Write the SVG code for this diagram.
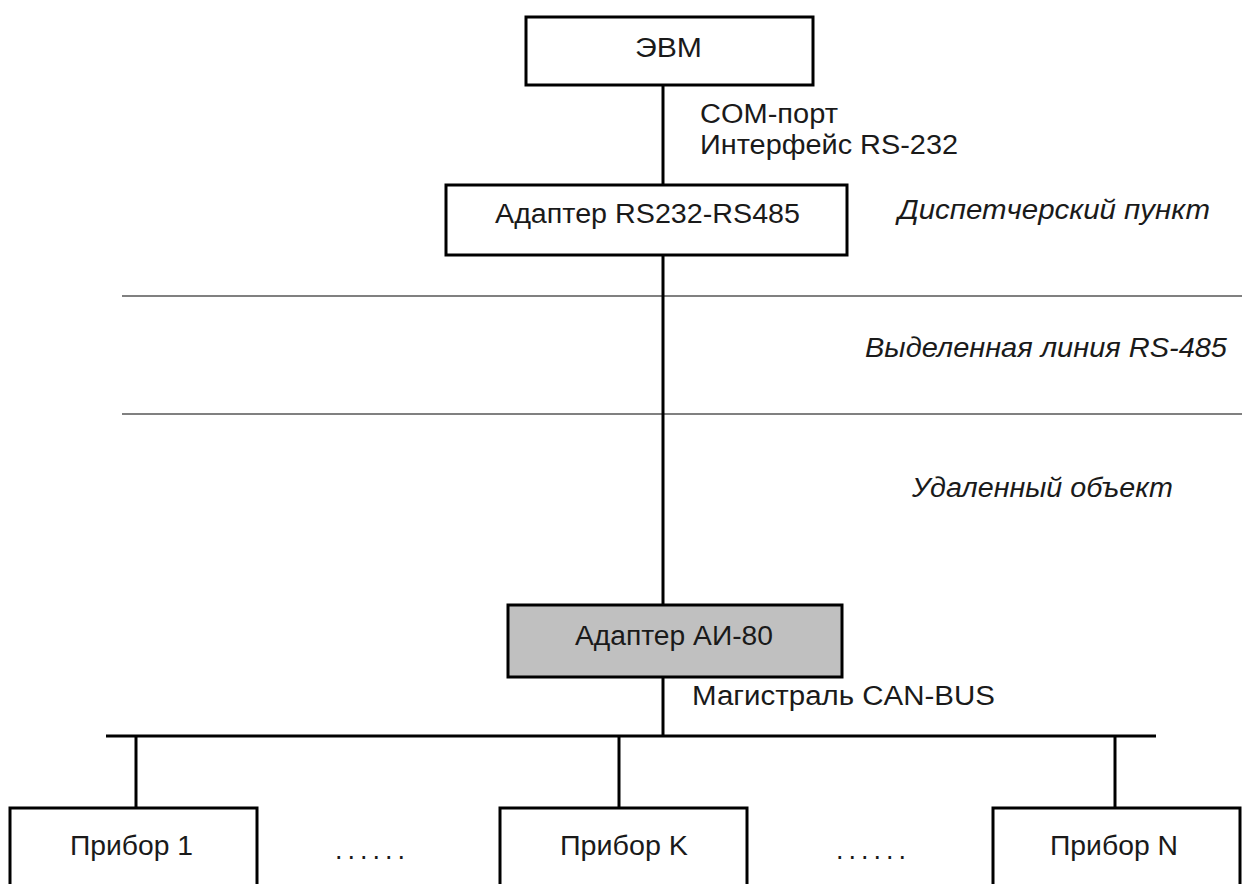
<svg xmlns="http://www.w3.org/2000/svg" width="1242" height="884" viewBox="0 0 1242 884">
<style>
.box{fill:#fff;stroke:#000;stroke-width:3}
.gray{fill:#c0c0c0;stroke:#000;stroke-width:3}
.wire{stroke:#000;stroke-width:3;fill:none}
.div{stroke:#808080;stroke-width:2;fill:none}
text{font-family:"Liberation Sans",Arial,sans-serif;font-size:27px;fill:#1a1a1a}
.it{font-style:italic}
</style>
<rect width="1242" height="884" fill="#fff"/>
<g id="dividers">
<line class="div" x1="122" y1="296" x2="1242" y2="296"/>
<line class="div" x1="122" y1="414" x2="1242" y2="414"/>
</g>
<g id="connectors">
<line class="wire" x1="663" y1="85" x2="663" y2="185"/>
<line class="wire" x1="663" y1="255" x2="663" y2="605"/>
<line class="wire" x1="663" y1="677" x2="663" y2="736"/>
<line class="wire" x1="106" y1="736" x2="1156" y2="736"/>
<line class="wire" x1="136" y1="736" x2="136" y2="808"/>
<line class="wire" x1="619" y1="736" x2="619" y2="808"/>
<line class="wire" x1="1115" y1="736" x2="1115" y2="808"/>
</g>
<g id="evm">
<rect class="box" x="526" y="17" width="287" height="68"/>
<text x="635" y="57" textLength="67" lengthAdjust="spacingAndGlyphs">ЭВМ</text>
</g>
<g id="label-com">
<text x="700" y="123" textLength="138" lengthAdjust="spacingAndGlyphs">COM-порт</text>
<text x="700" y="154" textLength="258" lengthAdjust="spacingAndGlyphs">Интерфейс RS-232</text>
</g>
<g id="adapter-rs">
<rect class="box" x="446" y="185" width="401" height="70"/>
<text x="495" y="223" textLength="305" lengthAdjust="spacingAndGlyphs">Адаптер RS232-RS485</text>
</g>
<g id="zone-labels">
<text class="it" x="898" y="219" textLength="312" lengthAdjust="spacingAndGlyphs">Диспетчерский пункт</text>
<text class="it" x="865" y="357" textLength="362" lengthAdjust="spacingAndGlyphs">Выделенная линия RS-485</text>
<text class="it" x="912" y="497" textLength="261" lengthAdjust="spacingAndGlyphs">Удаленный объект</text>
</g>
<g id="adapter-ai80">
<rect class="gray" x="508" y="605" width="334" height="72"/>
<text x="575" y="645" textLength="198" lengthAdjust="spacingAndGlyphs">Адаптер АИ-80</text>
</g>
<g id="label-can">
<text x="692" y="705" textLength="303" lengthAdjust="spacingAndGlyphs">Магистраль CAN-BUS</text>
</g>
<g id="device-1">
<rect class="box" x="10" y="808" width="247" height="100"/>
<text x="70" y="855" textLength="123" lengthAdjust="spacingAndGlyphs">Прибор 1</text>
</g>
<g id="dots-1">
<text x="335" y="859" textLength="70" lengthAdjust="spacing">......</text>
</g>
<g id="device-k">
<rect class="box" x="500" y="808" width="247" height="100"/>
<text x="560" y="855" textLength="128" lengthAdjust="spacingAndGlyphs">Прибор K</text>
</g>
<g id="dots-2">
<text x="836" y="859" textLength="70" lengthAdjust="spacing">......</text>
</g>
<g id="device-n">
<rect class="box" x="993" y="808" width="247" height="100"/>
<text x="1050" y="855" textLength="128" lengthAdjust="spacingAndGlyphs">Прибор N</text>
</g>
</svg>
